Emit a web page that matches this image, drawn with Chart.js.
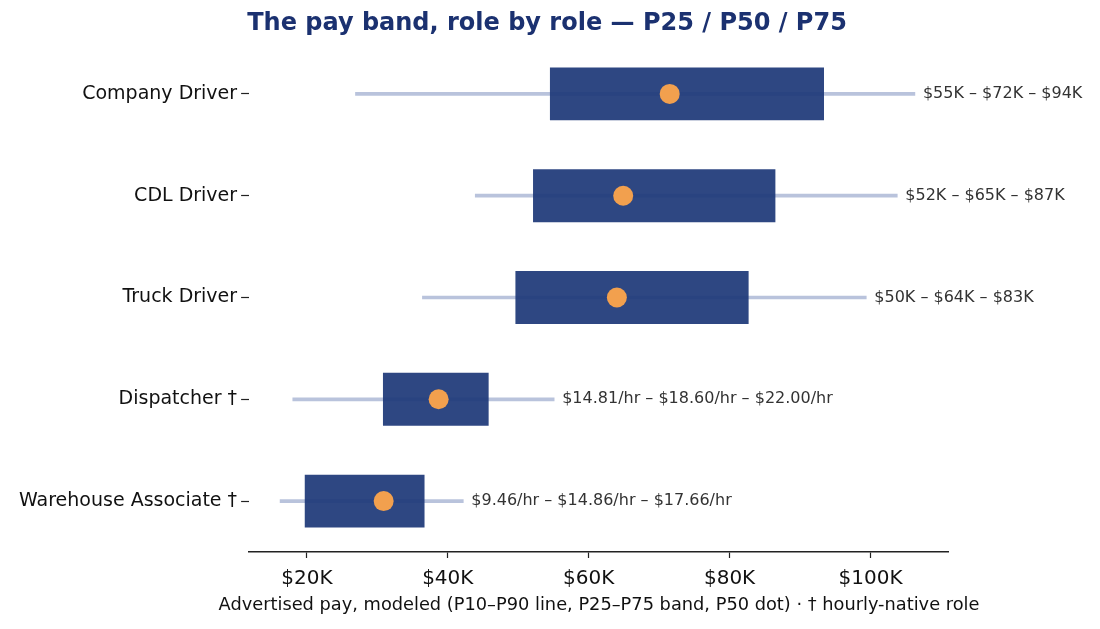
<!DOCTYPE html>
<html>
<head>
<meta charset="utf-8">
<script src="https://cdn.jsdelivr.net/npm/chart.js@4/dist/chart.umd.min.js"></script>
<style>
  html, body { margin: 0; padding: 0; background: #fff; }
  #wrap { width: 1100px; height: 629px; }
</style>
</head>
<body>
<div id="wrap"><canvas id="chart"></canvas></div>
<script>
const roles = ['Company Driver', 'CDL Driver', 'Truck Driver', 'Dispatcher †', 'Warehouse Associate †'];
// annualised pay in $K
const p10 = [26.9, 43.9, 36.4, 18.0, 16.2];
const p25 = [54.5, 52.1, 49.6, 30.8, 19.7];
const p50 = [71.5, 64.9, 64.0, 38.7, 30.9];
const p75 = [93.4, 86.5, 82.7, 45.8, 36.7];
const p90 = [106.3, 103.8, 99.4, 55.1, 42.2];
const bandLabels = [
  '$55K – $72K – $94K',
  '$52K – $65K – $87K',
  '$50K – $64K – $83K',
  '$14.81/hr – $18.60/hr – $22.00/hr',
  '$9.46/hr – $14.86/hr – $17.66/hr',
];
const xTicks = [20, 40, 60, 80, 100];

const FONT = '"DejaVu Sans", sans-serif';

// titles drawn by hand: Chart.js would centre them on the padded box
// and squeeze the long axis title to the plot width
const titles = {
  id: 'titles',
  afterDraw(chart) {
    const { ctx } = chart;
    ctx.save();
    ctx.textAlign = 'center';
    ctx.textBaseline = 'middle';
    ctx.font = 'bold 24px ' + FONT;
    ctx.fillStyle = '#1b3170';
    ctx.fillText('The pay band, role by role — P25 / P50 / P75', 547, 24);
    ctx.font = '17.8px ' + FONT;
    ctx.fillStyle = '#111';
    ctx.fillText('Advertised pay, modeled (P10–P90 line, P25–P75 band, P50 dot) · † hourly-native role', 599, 605);
    ctx.restore();
  }
};

const endLabels = {
  id: 'endLabels',
  afterDatasetsDraw(chart) {
    const { ctx, scales: { x, y } } = chart;
    ctx.save();
    ctx.font = '16px ' + FONT;
    ctx.fillStyle = '#333';
    ctx.textBaseline = 'middle';
    ctx.textAlign = 'left';
    roles.forEach((r, i) => {
      const px = x.getPixelForValue(Math.max(p90[i], p75[i])) + 8;
      ctx.fillText(bandLabels[i], px, y.getPixelForValue(i));
    });
    ctx.restore();
  }
};

new Chart(document.getElementById('chart'), {
  type: 'bar',
  data: {
    labels: roles,
    datasets: [
      {
        label: 'P10–P90',
        data: roles.map((r, i) => [p10[i], p90[i]]),
        backgroundColor: '#b9c3dc',
        barThickness: 3,
        grouped: false,
        order: 3,
      },
      {
        label: 'P25–P75',
        data: roles.map((r, i) => [p25[i], p75[i]]),
        backgroundColor: 'rgba(30,57,120,0.93)',
        categoryPercentage: 1,
        barPercentage: 0.52,
        grouped: false,
        order: 2,
      },
      {
        type: 'line',
        label: 'P50',
        data: roles.map((r, i) => ({ x: p50[i], y: r })),
        showLine: false,
        pointRadius: 10,
        pointBackgroundColor: '#f2a04e',
        pointBorderWidth: 0,
        order: 1,
      },
    ],
  },
  options: {
    indexAxis: 'y',
    responsive: true,
    maintainAspectRatio: false,
    animation: false,
    layout: { padding: { left: 15, right: 152, top: 43, bottom: 29 } },
    plugins: {
      legend: { display: false },
      tooltip: { enabled: false },
      title: { display: false },
    },
    scales: {
      x: {
        type: 'linear',
        min: 11.8,
        max: 111,
        afterBuildTicks: (axis) => { axis.ticks = xTicks.map(v => ({ value: v })); },
        ticks: {
          callback: (v) => '$' + v + 'K',
          color: '#111',
          font: { family: FONT, size: 20 },
          padding: 9,
        },
        grid: { drawOnChartArea: false, tickLength: 6, color: '#222', tickWidth: 1.2 },
        border: { display: true, color: '#222', width: 1.5 },
      },
      y: {
        type: 'category',
        offset: true,
        ticks: {
          color: '#111',
          font: { family: FONT, size: 19 },
          padding: 4,
        },
        grid: { drawOnChartArea: false, offset: false, tickLength: 8, color: '#222', tickWidth: 1.2 },
        border: { display: false },
      },
    },
  },
  plugins: [endLabels, titles],
});
</script>
</body>
</html>
